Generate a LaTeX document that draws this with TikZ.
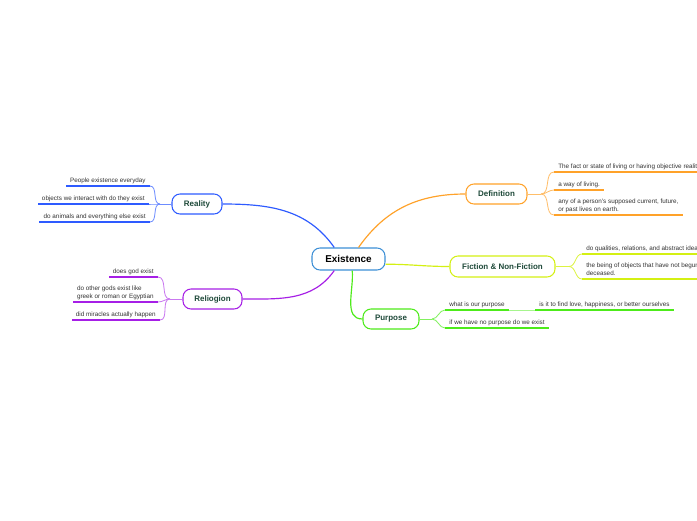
\documentclass[tikz,border=0pt]{standalone}
\usepackage{fontspec}
\setmainfont{Liberation Sans}
\usepackage{tikz}
\definecolor{coreblue}{HTML}{3D8FD6}
\definecolor{deforange}{HTML}{FFA229}
\definecolor{ficyellow}{HTML}{D4F013}
\definecolor{purgreen}{HTML}{4DEB1A}
\definecolor{reablue}{HTML}{2E5BFF}
\definecolor{relpurple}{HTML}{A61FE6}
\definecolor{labelgreen}{HTML}{1F4A3A}

\begin{document}
\begin{tikzpicture}[x=0.03cm, y=0.03cm,
  core/.style={draw=coreblue, line width=0.9pt, rounded corners=0.24cm, fill=white, minimum width=2.19cm, minimum height=0.66cm, font=\fontsize{8.5}{10}\selectfont\bfseries},
  topic/.style={draw, line width=0.9pt, rounded corners=0.24cm, fill=white, minimum height=0.6cm, text=labelgreen, font=\fontsize{6.8}{8}\selectfont\bfseries},
  leaf/.style={inner xsep=3.5pt, inner ysep=2.2pt, text depth=1pt, align=left, text=black!80, font=\fontsize{5.4}{6.3}\selectfont},
  main/.style={line width=1pt},
  twig/.style={line width=0.7pt},
  uline/.style={line width=1.5pt}
]
\fill[white] (0,0) rectangle (697,-520);
\clip (0,0) rectangle (697,-520);

\node[core] (ex) at (348.5,-259) {Existence};
\node[topic, draw=deforange, minimum width=1.83cm] (def) at (496.5,-194) {Definition};
\node[topic, draw=ficyellow, minimum width=3.15cm, minimum height=0.63cm] (fic) at (502.5,-266.5) {Fiction \& Non-Fiction};
\node[topic, draw=purgreen, minimum width=1.68cm] (pur) at (391,-319) {Purpose};
\node[topic, draw=reablue, minimum width=1.5cm] (rea) at (197,-204) {Reality};
\node[topic, draw=relpurple, minimum width=1.77cm] (rel) at (212.5,-299) {Reliogion};

\draw[main, deforange] (ex.49) to[out=55,in=180] (def.west);
\draw[main, ficyellow] (ex.352) to[out=0,in=180] (fic.west);
\draw[main, purgreen] (ex.288) to[out=-85,in=180] (pur.west);
\draw[main, reablue] (ex.141) to[out=125,in=0] (rea.east);
\draw[main, relpurple] (ex.219) to[out=-125,in=0] (rel.east);

% definition
\node[leaf, anchor=south west] (d1) at (554,-172) {The fact or state of living or having objective reality};
\node[leaf, anchor=south west] (d2) at (554,-190) {a way of living.};
\node[leaf, anchor=south west] (d3) at (554,-215) {any of a person's supposed current, future,\\or past lives on earth.};
\coordinate (dj) at (541,-194);
\draw[twig, deforange!70] (def.east) -- (dj);
\foreach \n in {d1,d2,d3} {
  \draw[twig, deforange!70] (dj) to[out=0,in=180] (\n.south west);
  \draw[uline, deforange] (\n.south west) -- (\n.south east);
}

% fiction
\node[leaf, anchor=south west] (f1) at (582,-254) {do qualities, relations, and abstract ideas};
\node[leaf, anchor=south west] (f2) at (582,-279) {the being of objects that have not begun\\deceased.};
\coordinate (fj) at (569,-266.5);
\draw[twig, ficyellow!80] (fic.east) -- (fj);
\foreach \n in {f1,f2} {
  \draw[twig, ficyellow!80] (fj) to[out=0,in=180] (\n.south west);
  \draw[uline, ficyellow] (\n.south west) -- (\n.south east);
}

% purpose
\node[leaf, anchor=south west] (p1) at (445,-310) {what is our purpose};
\node[leaf, anchor=south west] (p2) at (535,-310) {is it to find love, happiness, or better ourselves};
\node[leaf, anchor=south west] (p3) at (445,-328) {if we have no purpose do we exist};
\coordinate (pj) at (432,-319);
\draw[twig, purgreen!70] (pur.east) -- (pj);
\foreach \n in {p1,p3} \draw[twig, purgreen!70] (pj) to[out=0,in=180] (\n.south west);
\draw[twig, purgreen!50] (p1.south east) -- (p2.south west);
\foreach \n in {p1,p2,p3} \draw[uline, purgreen] (\n.south west) -- (\n.south east);

% reality
\node[leaf, anchor=south east] (r1) at (150,-186) {People existence everyday};
\node[leaf, anchor=south east] (r2) at (149,-204) {objects we interact with do they exist};
\node[leaf, anchor=south east] (r3) at (150,-222) {do animals and everything else exist};
\coordinate (rj) at (160,-204);
\draw[twig, reablue!70] (rea.west) -- (rj);
\foreach \n in {r1,r2,r3} {
  \draw[twig, reablue!70] (rj) to[out=180,in=0] (\n.south east);
  \draw[uline, reablue] (\n.south east) -- (\n.south west);
}

% religion
\node[leaf, anchor=south east] (g1) at (158,-277) {does god exist};
\node[leaf, anchor=south east] (g2) at (158,-302) {do other gods exist like\\greek or roman or Egyptian};
\node[leaf, anchor=south east] (g3) at (160,-320) {did miracles actually happen};
\coordinate (gj) at (170,-299);
\draw[twig, relpurple!60] (rel.west) -- (gj);
\foreach \n in {g1,g2,g3} {
  \draw[twig, relpurple!60] (gj) to[out=180,in=0] (\n.south east);
  \draw[uline, relpurple] (\n.south east) -- (\n.south west);
}
\end{tikzpicture}
\end{document}
